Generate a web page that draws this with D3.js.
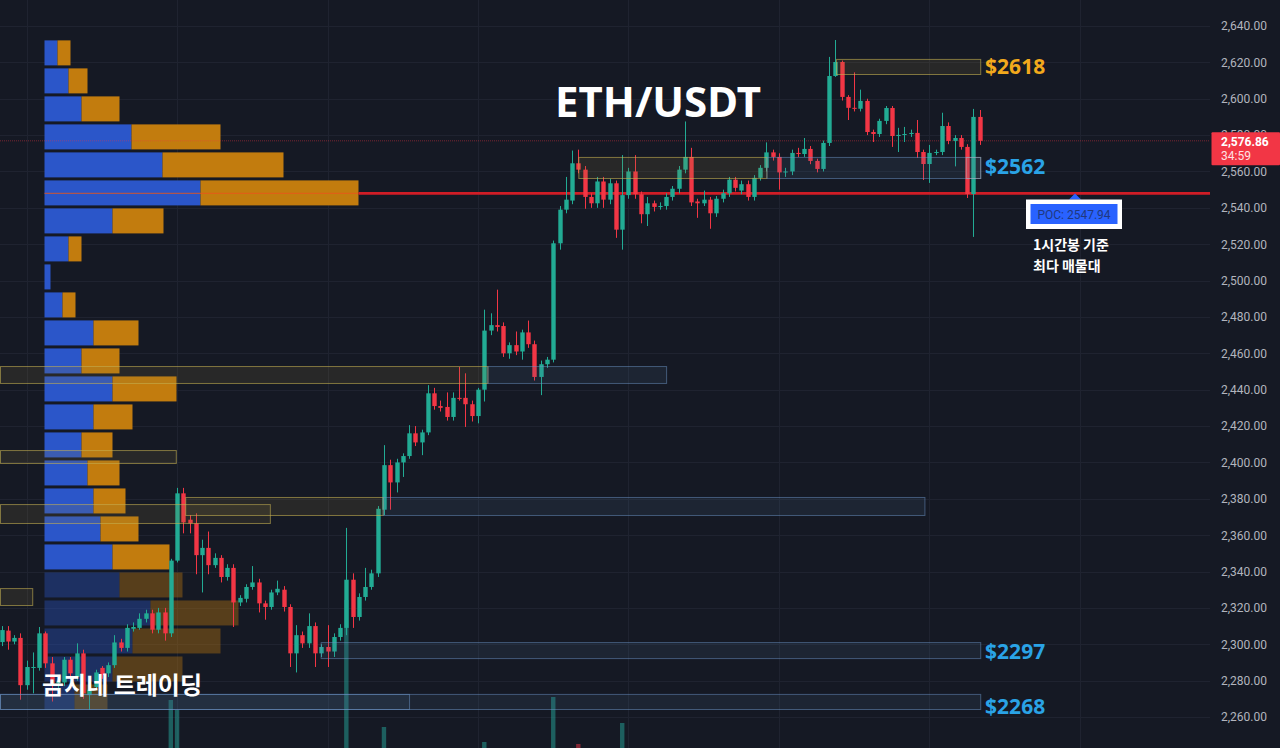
<!DOCTYPE html>
<html><head><meta charset="utf-8">
<script src="https://cdn.jsdelivr.net/npm/d3@7"></script>
<style>html,body{margin:0;padding:0;background:#151924;overflow:hidden}</style>
</head><body><svg id="c" width="1280" height="748"></svg>
<script>
// ---------- DATA ----------
const candleOpen = [
2301.2,2307.5,2301.5,2303.5,2277.5,2287,2287,2306,2289.5,2278.5,
2279,2291.5,2282,2295,2272,2276.5,2287,2284,2288.5,2301,
2298,2308.5,2309,2314,2317,2308,2317.5,2306,2346,2383,
2368.5,2366.5,2349,2353,2343.5,2347.5,2337,2342,2323,2325,
2331.5,2334,2322.5,2320.5,2328.5,2330,2320.5,2295,2305,2300.5,
2310,2295,2298.5,2296,2304,2309,2335.5,2315,2326,2331.5,
2339,2374,2398.5,2389,2400,2403.5,2416,2411,2416.5,2438,
2431,2430.5,2425,2435.5,2435.5,2432,2425.5,2440,2472.5,2475.5,
2475,2460,2464.5,2461,2471.5,2465,2447,2454,2456.5,2520.5,
2539,2544,2564.5,2561,2546,2542.5,2554.5,2544.5,2553.5,2528,
2547,2560,2547.5,2536.5,2542.5,2540.5,2541,2546,2550.5,2561,
2568,2543.5,2542.5,2544.5,2537,2545,2548,2555.5,2549.5,2553,
2546,2556.5,2562,2570.5,2568,2559.5,2560,2570.2,2569.6,2572.4,
2565.8,2561.4,2575.7,2612.5,2620.2,2601,2595,2594.5,2598.8,2581.7,
2580.6,2587.8,2594.9,2579.5,2580.1,2580.6,2581.2,2570.7,2564.1,2570.2,
2570.7,2585,2576.8,2578.4,2573.5,2547.6,2590];
const candleHigh = [
2310,2310,2305,2306,2291,2295.5,2309.5,2307,2293,2283,
2293,2293,2300.5,2297,2276.5,2286,2288,2290,2305,2303,
2311,2312,2317,2319,2319,2320,2320,2347,2386,2386,
2371,2372,2357.5,2362,2350,2349,2344,2344,2327,2333,
2343,2336,2324,2330,2335,2332,2322,2310.5,2307,2317,
2312,2300,2310.5,2306,2311,2364,2339,2328,2342,2341,
2376,2409.5,2401.5,2402,2405,2420.5,2420,2418,2442.5,2441,
2434,2438.5,2438.5,2452.5,2449,2434,2441,2484,2482,2495,
2477,2466,2472,2473,2478,2467,2456,2458,2522,2541,
2557,2571.5,2572,2563,2548,2557,2557,2556,2555,2569,
2562,2569,2549,2546,2544,2543,2548,2552,2563,2587.5,
2573,2545,2549.5,2546,2546.5,2550,2557,2557,2555,2555,
2558,2563.5,2576,2572,2570,2562,2572,2573,2578.4,2574,
2567,2577,2623,2632.3,2621,2602,2614.5,2605,2600,2583,
2589,2596,2596,2584,2584.5,2583,2588.3,2572,2574.6,2572,
2592.3,2587,2580,2580,2575,2594.4,2593.8];
const candleLow = [
2299,2297,2300,2269.5,2275,2273,2285.5,2287,2268.5,2274,
2277,2282,2280,2270,2264,2275,2281,2282,2287,2296,
2296,2307,2308,2312,2306,2306,2302,2304,2345,2361,
2361,2338.5,2328.5,2338.5,2342,2334,2335,2309.5,2321,2323,
2330,2317.5,2313.5,2319,2327,2318,2287.5,2284.5,2298,2298,
2287.5,2293,2287.5,2293,2302,2305,2309,2313,2324,2330,
2337,2371,2374,2383.5,2392,2402,2409,2404,2415,2429,
2428,2423,2423,2434,2419.5,2422.5,2421.5,2433.5,2470,2472,
2458,2457,2459,2456.5,2463,2445,2437,2452,2455,2517,
2537,2542,2559,2539.5,2540,2540,2540,2542,2523.5,2517,
2545,2545,2531.5,2530,2538,2539,2539,2544,2548,2559,
2541,2534.5,2541,2528.5,2535,2543,2546,2549,2547.5,2544,
2544,2555,2560,2566,2550,2557,2558,2568,2568,2564,
2559.5,2560,2574,2612,2599,2588.3,2593,2593,2580,2576.2,
2579,2586,2573.5,2570.7,2576.2,2579,2567.5,2555.3,2553.7,2569,
2569,2575,2562.8,2572,2545.4,2524,2574.6];
const candleClose = [
2307.8,2301.5,2303.5,2277.5,2287.5,2287.5,2306,2289.5,2278.5,2279.5,
2291.5,2284,2295,2273,2275,2284.5,2283,2288.5,2301,2298,
2309,2309.5,2314,2317,2308,2317.5,2306,2346,2383,2367,
2366.5,2349,2353,2343.5,2347.5,2337,2342,2323,2325.5,2331.5,
2334,2322.5,2320.5,2328.5,2330.5,2320.5,2295,2305,2300.5,2310,
2295,2298.5,2296,2304,2309,2335.5,2315,2326,2331.5,2339,
2374.5,2398.5,2389,2400,2403.5,2416,2411,2416.5,2438,2431,
2430,2425,2435.5,2435,2432,2425.5,2440,2472.5,2475.5,2474.5,
2460,2464.5,2461,2471.5,2465,2447,2454,2456.5,2520.5,2539,
2544.5,2564.5,2561,2546,2542.5,2554.5,2544.5,2553.5,2528,2547,
2560,2547.5,2536.5,2542.5,2540.5,2541,2546,2550.5,2561,2568,
2543,2542.5,2544.5,2537,2545,2548,2555.5,2551,2553,2546,
2556.5,2562,2570.5,2568,2559.5,2560,2570.2,2569.6,2572.4,2565.8,
2561.4,2575.7,2612.5,2620.2,2601,2595,2594.5,2598.8,2581.7,2580.6,
2587.8,2594.9,2579.5,2580.1,2580.6,2581.2,2570.7,2564.1,2570.2,2570.7,
2585,2576.8,2578.4,2573.5,2547.6,2590,2576.86];

// volume bars that reach into view (candle index, volume)
const volIndex = [27, 28, 55, 61, 77, 88, 92, 99];
const volValue = [4500, 4000, 9500, 3150, 2400, 4650, 2300, 3350];

// visible-range volume profile (24 rows from top), buy / sell volume
const profileBuy  = [13,24,37,87,118,156,68,24,6,18,49,37,68,49,37,43,49,56,68,75,106,88,68,30];
const profileSell = [13,19,38,89,121,158,51,13,0,13,45,38,64,39,31,32,32,38,57,63,88,88,70,33];
const profileHigh = 2632.64;
const profileRow = 15.4;
const valueAreaLastRow = 18;
const pocPrice = 2547.94;
const lastPrice = 2576.86;

// price axis ticks
const priceTicks = [2260,2280,2300,2320,2340,2360,2380,2400,2420,2440,2460,2480,2500,2520,2540,2560,2580,2600,2620,2640];
const gridCandles = [4,28,52,76,100,124,148,172];

// zones: kind, top price, bottom price, start candle, end candle
const zoneKind   = ['s','s','d','s','d','s','s','s','d','s','d','d','d','n'];
const zoneTop    = [2621.9,2568.0,2568.0,2453.0,2453.0,2406.8,2377.1,2381.0,2381.0,2330.9,2301.2,2272.7,2272.7,2568.0];
const zoneBottom = [2613.6,2556.4,2556.4,2443.7,2443.7,2399.7,2366.7,2371.1,2371.1,2321.6,2292.4,2264.4,2264.4,2556.4];
const zoneStart  = [133.1,92,122,-1,77.5,-1,-1,29.3,60.8,-1,50.9,-1,-1,153.8];
const zoneEnd    = [156.1,122,156.1,77.5,106,27.8,42.8,60.8,147.2,4.9,156.1,156.1,65,156.1];

const levelText  = ['$2618','$2562','$2297','$2268'];
const levelPrice = [2617.5,2563,2296.3,2266];
const levelKind  = ['s','d','d','d'];

// ---------- DRAW ----------
const svg = d3.select('#c');
const W = 1280, H = 748, plotR = 1210;
const y = d3.scaleLinear().domain([2260, 2640]).range([717.0, 26]);
const x = d3.scaleLinear().domain([0, 156]).range([1.5, 979.6]);
const bodyW = 4.4;

svg.append('rect').attr('width', W).attr('height', H).attr('fill', '#151924');

// grid
const g = svg.append('g');
g.selectAll('.hg').data(priceTicks).join('line')
  .attr('x1', 0).attr('x2', plotR).attr('y1', d => Math.round(y(d)) + .5).attr('y2', d => Math.round(y(d)) + .5)
  .attr('stroke', '#1f2330').attr('stroke-width', 1);
g.selectAll('.vg').data(gridCandles).join('line')
  .attr('x1', d => Math.round(x(d)) + .5).attr('x2', d => Math.round(x(d)) + .5).attr('y1', 0).attr('y2', H)
  .attr('stroke', '#1f2330').attr('stroke-width', 1);

// volume
const yVol = d3.scaleLinear().domain([0, 10000]).range([790, 590]);
svg.append('g').selectAll('rect').data(volIndex).join('rect')
  .attr('x', (d) => x(d) - bodyW / 2).attr('width', bodyW)
  .attr('y', (d, i) => yVol(volValue[i])).attr('height', (d, i) => H - yVol(volValue[i]))
  .attr('fill', d => candleClose[d] >= candleOpen[d] ? 'rgba(38,166,154,0.5)' : 'rgba(242,54,69,0.5)');

// volume profile
const maxTot = d3.max(profileBuy.map((b, i) => b + profileSell[i]));
const xp = d3.scaleLinear().domain([0, maxTot]).range([0, 314]);
const pX0 = 44.5;
const prof = svg.append('g');
profileBuy.forEach((b, i) => {
  const top = y(profileHigh - i * profileRow) + 1;
  const bot = y(profileHigh - (i + 1) * profileRow) - 2;
  const op = i <= valueAreaLastRow ? 1 : 0.38;
  prof.append('rect').attr('x', pX0).attr('y', top).attr('width', xp(b)).attr('height', bot - top)
    .attr('fill', '#2b56c9').attr('opacity', op);
  prof.append('rect').attr('x', pX0 + xp(b)).attr('y', top).attr('width', xp(profileSell[i])).attr('height', bot - top)
    .attr('fill', '#c27c0e').attr('opacity', op);
});

// last price line
svg.append('line').attr('x1', 0).attr('x2', plotR).attr('y1', y(lastPrice)).attr('y2', y(lastPrice))
  .attr('stroke', '#f23645').attr('stroke-opacity', 0.45).attr('stroke-width', 1).attr('stroke-dasharray', '1,1');

// POC line
const pocRow = Math.floor((profileHigh - pocPrice) / profileRow);
const pocEnd = pX0 + xp(profileBuy[pocRow] + profileSell[pocRow]);
svg.append('line').attr('x1', pX0).attr('x2', pocEnd).attr('y1', y(pocPrice)).attr('y2', y(pocPrice))
  .attr('stroke', '#e8551a').attr('stroke-opacity', 0.7).attr('stroke-width', 1.2);
svg.append('line').attr('x1', pocEnd).attr('x2', plotR).attr('y1', y(pocPrice)).attr('y2', y(pocPrice))
  .attr('stroke', '#d01d26').attr('stroke-width', 2.6);

// candles
const idx = d3.range(candleOpen.length);
const cg = svg.append('g');
const col = i => candleClose[i] >= candleOpen[i] ? '#22ab94' : '#f23645';
cg.selectAll('.w').data(idx).join('line')
  .attr('x1', i => Math.round(x(i)) + .5).attr('x2', i => Math.round(x(i)) + .5)
  .attr('y1', i => y(candleHigh[i])).attr('y2', i => y(candleLow[i]))
  .attr('stroke', col).attr('stroke-width', 1);
cg.selectAll('.b').data(idx).join('rect')
  .attr('x', i => Math.round(x(i)) + .5 - bodyW / 2).attr('width', bodyW)
  .attr('y', i => y(Math.max(candleOpen[i], candleClose[i])))
  .attr('height', i => Math.max(1, Math.abs(y(candleOpen[i]) - y(candleClose[i]))))
  .attr('fill', col);

// zones
const zs = {s: ['rgba(196,176,82,0.6)', 'rgba(140,125,60,0.16)'],
            d: ['rgba(110,150,200,0.5)', 'rgba(80,110,150,0.14)'],
            n: ['rgba(190,190,190,0.45)', 'rgba(150,150,150,0.08)']};
const zg = svg.append('g');
zoneKind.forEach((k, i) => {
  const x0 = Math.max(0, x(zoneStart[i])), x1 = x(zoneEnd[i]);
  zg.append('rect').attr('x', x0 + .5).attr('y', y(zoneTop[i]) + .5)
    .attr('width', x1 - x0).attr('height', y(zoneBottom[i]) - y(zoneTop[i]))
    .attr('fill', zs[k][1]).attr('stroke', zs[k][0]).attr('stroke-width', 1);
});

// level labels
const lc = {s: '#f2a91c', d: '#2aa3e6'};
svg.append('g').selectAll('text').data(levelText).join('text')
  .attr('x', x(156) + 5.5).attr('y', (d, i) => y(levelPrice[i])).attr('dy', '0.36em')
  .attr('fill', (d, i) => lc[levelKind[i]])
  .attr('font-family', 'Noto Sans, sans-serif').attr('font-weight', 'bold').attr('font-size', 21)
  .text(d => d);

// title
svg.append('text').attr('x', 658).attr('y', 117).attr('text-anchor', 'middle')
  .attr('fill', '#ffffff').attr('font-family', 'Noto Sans, sans-serif').attr('font-weight', 'bold')
  .attr('font-size', 42).text('ETH/USDT');

// watermark
svg.append('text').attr('x', 42).attr('y', 694)
  .attr('fill', '#ffffff').attr('font-family', 'Noto Sans CJK KR, sans-serif').attr('font-weight', 'bold')
  .attr('font-size', 24).text('곰지네 트레이딩');

// POC annotation
const pocY = y(pocPrice);
svg.append('path').attr('d', `M1069,${pocY + 6}L1075,${pocY}L1081,${pocY + 6}Z`).attr('fill', '#2962ff');
svg.append('rect').attr('x', 1026).attr('y', 199.5).attr('width', 96).attr('height', 29.5).attr('fill', '#ffffff');
svg.append('rect').attr('x', 1030.5).attr('y', 204).attr('width', 87).attr('height', 20).attr('fill', '#2962ff');
svg.append('text').attr('x', 1074).attr('y', 218.5).attr('text-anchor', 'middle')
  .attr('fill', '#20387e').attr('font-family', 'Roboto, sans-serif').attr('font-size', 12)
  .text('POC: ' + pocPrice.toFixed(2));
svg.append('text').attr('x', 1033).attr('y', 250).attr('fill', '#ffffff')
  .attr('font-family', 'Noto Sans CJK KR, sans-serif').attr('font-weight', 'bold').attr('font-size', 14)
  .text('1시간봉 기준');
svg.append('text').attr('x', 1033).attr('y', 271).attr('fill', '#ffffff')
  .attr('font-family', 'Noto Sans CJK KR, sans-serif').attr('font-weight', 'bold').attr('font-size', 14)
  .text('최다 매물대');

// price axis
const axis = d3.axisRight(y).tickValues(priceTicks).tickSize(0).tickPadding(0).tickFormat(d3.format(',.2f'));
const ag = svg.append('g').attr('transform', 'translate(1221,0)').call(axis);
ag.select('.domain').remove();
ag.selectAll('text').attr('fill', '#b2b5be').attr('font-family', 'Roboto, sans-serif').attr('font-size', 12);

// last price tag
const ly = y(lastPrice);
svg.append('rect').attr('x', 1211.5).attr('y', ly - 8.5).attr('width', 68.5).attr('height', 33).attr('fill', '#f23645').attr('rx', 1);
svg.append('text').attr('x', 1221).attr('y', ly + 5).attr('fill', '#ffffff').attr('font-family', 'Roboto, sans-serif')
  .attr('font-weight', 'bold').attr('font-size', 12).text(d3.format(',.2f')(lastPrice));
svg.append('text').attr('x', 1221).attr('y', ly + 19).attr('fill', '#ffe0e3').attr('font-family', 'Roboto, sans-serif')
  .attr('font-size', 12).text('34:59');
</script></body></html>
